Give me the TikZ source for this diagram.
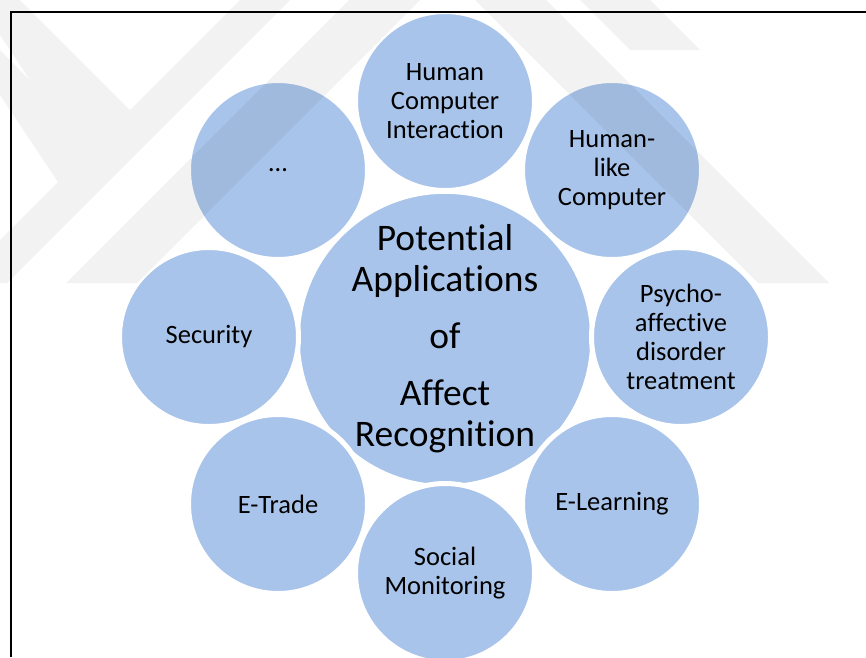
\documentclass[tikz,border=0pt]{standalone}
\usepackage{fontspec}
\setmainfont{Carlito}[Ligatures=NoCommon]
\definecolor{bubblefill}{RGB}{169,196,234}
\begin{document}
\begin{tikzpicture}[x=1pt,y=-1pt,
  bubble/.style={circle, fill=bubblefill, draw=white, line width=5pt,
    inner sep=0pt, minimum size=179pt, align=center,
    font=\fontsize{26.5}{29}\selectfont},
  hub/.style={bubble, minimum size=291pt,
    font=\fontsize{37.5}{41}\selectfont},
  shade/.style={fill=black}]
\useasboundingbox (0,0) rectangle (866,657);

% central topic and the eight application bubbles
\node[hub] (hub) at (445,339)
  {Potential\\Applications\\[16pt]of\\[16pt]Affect\\Recognition};
\node[bubble] (hci)    at (445,101) {Human\\Computer\\Interaction};
\node[bubble] (hlc)    at (612,170) {Human-\\like\\Computer};
\node[bubble] (psy)    at (681,337) {Psycho-\\affective\\disorder\\treatment};
\node[bubble] (elearn) at (612,504) {E-Learning};
\node[bubble] (social) at (445,573) {Social\\Monitoring};
\node[bubble] (etrade) at (278,504) {E-Trade};
\node[bubble] (secur)  at (209,337) {Security};
\node[bubble] (more)   at (278,170) {…};

% faint striped emblem in the background, blended as one layer
\begin{scope}[transparency group, opacity=0.05]
  \clip (0,0) rectangle (866,283);
  \fill[shade] (359,-10) -- (430,-10) -- (137,283) -- (66,283) -- cycle;
  \fill[shade] (465,-10) -- (536,-10) -- (829,283) -- (758,283) -- cycle;
  \fill[shade] (250,-10) -- (300,-10) -- (7,283) -- (-43,283) -- cycle;
  \fill[shade] (570,-10) -- (640,-10) -- (700,50) -- (630,50) -- cycle;
  \fill[shade] (-10,20) -- (-10,-30) -- (140,120) -- (90,170) -- cycle;
  \fill[shade] (-10,80) -- (-10,40) -- (110,160) -- (70,200) -- cycle;
\end{scope}

% page frame
\coordinate (fbl) at (10.5,657);
\coordinate (ftl) at (10.5,11.5);
\coordinate (ftr) at (866,11.5);
\draw[line width=2pt] (fbl) -- (ftl) -- (ftr);
\end{tikzpicture}
\end{document}
